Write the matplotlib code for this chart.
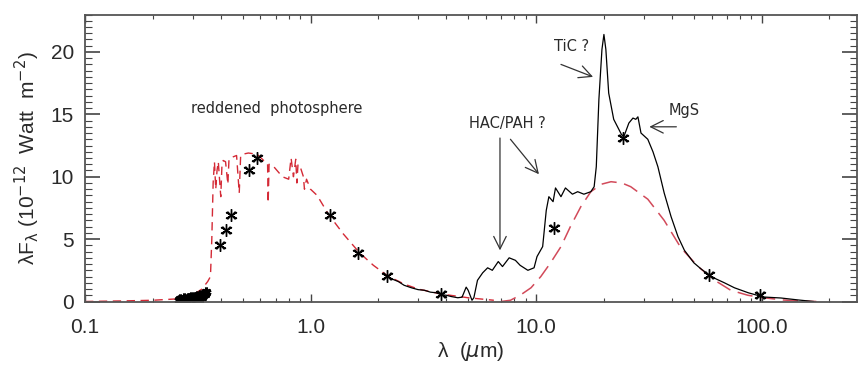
import numpy as np
import matplotlib.pyplot as plt
from matplotlib.ticker import FixedLocator, FixedFormatter, MultipleLocator

# reddened photosphere model (10^-12 W m^-2)
phot_wave = [0.10, 0.15, 0.20, 0.25, 0.30, 0.33, 0.35, 0.36, 0.365, 0.37, 0.375,
             0.38, 0.385, 0.39, 0.40, 0.405, 0.41, 0.42, 0.43, 0.435, 0.44, 0.47,
             0.483, 0.49, 0.50, 0.53, 0.58, 0.62, 0.645, 0.649, 0.655, 0.68, 0.75,
             0.80, 0.82, 0.84, 0.86, 0.87, 0.88, 0.90, 0.93, 0.94, 0.96, 1.00, 1.07,
             1.2, 1.4, 1.65, 1.9, 2.2, 2.6, 3.0, 3.8, 5.0, 6.5]
phot_flux = [0.0, 0.05, 0.1, 0.2, 0.5, 1.0, 1.6, 2.0, 5.0, 9.5, 11.2,
             9.0, 10.5, 11.2, 8.4, 11.0, 11.3, 11.2, 9.4, 11.4, 11.5, 11.7,
             8.7, 11.7, 11.8, 11.9, 11.8, 11.3, 11.1, 7.9, 11.0, 10.9, 10.0,
             9.8, 11.5, 10.0, 11.4, 9.5, 11.0, 10.8, 10.0, 9.0, 9.8, 9.0, 8.5,
             7.0, 5.4, 3.9, 2.9, 2.05, 1.4, 1.0, 0.6, 0.3, 0.1]

# dust shell model
dust_wave = [7.0, 7.7, 8.5, 9.5, 10.5, 11.6, 12.9, 14.2, 15.8, 17.5, 19.5, 21.5,
             24.0, 26.3, 31.3, 37.0, 43.9, 52.3, 62.0, 73.0, 87.0, 102.0, 125.0,
             146.0, 175.0]
dust_flux = [0.0, 0.1, 0.5, 1.1, 2.0, 3.1, 4.4, 6.0, 7.6, 8.8, 9.4, 9.6,
             9.5, 9.2, 8.2, 6.5, 4.3, 2.8, 1.7, 0.9, 0.5, 0.3, 0.12,
             0.05, 0.0]

# observed spectrum (SWS / LWS)
spec_wave = [2.1, 2.2, 2.3, 2.45, 2.6, 2.8, 3.0, 3.2, 3.4, 3.6, 3.8, 4.0, 4.2,
             4.5, 4.7, 4.9, 5.0, 5.1, 5.2, 5.3, 5.5, 5.8, 6.1, 6.4, 6.8, 7.1,
             7.6, 8.1, 8.5, 9.2, 9.8, 10.1, 10.7, 11.1, 11.4, 11.9, 12.2, 12.9,
             13.5, 14.5, 15.3, 16.3, 17.5, 18.1, 18.5, 19.0, 19.6, 20.0, 20.4,
             21.0, 22.1, 23.9, 24.5, 25.8, 26.9, 27.7, 28.3, 29.2, 31.3, 33.0,
             34.7, 37.0, 39.7, 42.6, 45.5, 50.1, 54.0, 58.7, 63.0, 68.4, 75.8,
             87.3, 102.0, 122.0, 146.0, 170.0]
spec_flux = [2.2, 2.0, 1.8, 1.6, 1.3, 1.1, 0.95, 0.9, 0.75, 0.7, 0.55, 0.5, 0.4,
             0.3, 0.35, 1.15, 0.9, 0.5, 0.1, 0.3, 1.7, 2.3, 2.7, 2.5, 3.2, 2.8,
             3.5, 3.3, 2.9, 2.5, 2.7, 3.6, 4.4, 7.3, 8.4, 8.0, 9.1, 8.4,
             9.1, 8.6, 8.8, 8.6, 8.8, 9.2, 10.8, 16.2, 20.2, 21.4, 20.2,
             16.7, 14.6, 13.4, 13.2, 14.3, 14.7, 14.6, 14.8, 13.5, 13.0, 12.0,
             10.8, 8.7, 6.8, 5.2, 4.1, 3.1, 2.6, 2.1, 1.8, 1.5, 1.1,
             0.7, 0.36, 0.28, 0.12, 0.0]

# photometry
phot_pts_wave = [0.398, 0.423, 0.445, 0.536, 0.58, 1.22, 1.63, 2.18, 3.78,
                 12.0, 24.4, 58.7, 98.0]
phot_pts_flux = [4.5, 5.7, 6.95, 10.5, 11.5, 6.95, 3.9, 2.05, 0.6,
                 5.9, 13.1, 2.1, 0.5]

# UV spectrum points
uv_wave = [0.260, 0.265, 0.270, 0.275, 0.280, 0.285, 0.290, 0.295, 0.300,
           0.305, 0.310, 0.315, 0.320, 0.325, 0.330, 0.335, 0.340, 0.345]
uv_flux = [0.10, 0.20, 0.15, 0.25, 0.20, 0.30, 0.25, 0.35, 0.30,
           0.40, 0.35, 0.45, 0.35, 0.50, 0.40, 0.55, 0.60, 0.75]

x_ticks = [0.1, 1.0, 10.0, 100.0]
x_labels = ['0.1', '1.0', '10.0', '100.0']

plt.rcParams['font.family'] = ['Liberation Sans', 'DejaVu Sans']
plt.rcParams['mathtext.fontset'] = 'dejavusans'

fig = plt.figure(figsize=(8.58, 3.65), dpi=100)
ax = fig.add_axes([85 / 858, 63.5 / 365, 772 / 858, 287 / 365])

red = '#d42a36'
ax.plot(phot_wave, phot_flux, color=red, lw=1.0, dashes=(6, 4))
ax.plot(dust_wave, dust_flux, color='#d24a5a', lw=1.1, dashes=(10, 5))
ax.plot(spec_wave, spec_flux, color='black', lw=0.9)
ax.plot(uv_wave, uv_flux, ls='none', marker=(6, 2, 0), ms=7, mew=2.2,
        color='black')
ax.plot(phot_pts_wave, phot_pts_flux, ls='none', marker=(6, 2, 0), ms=9,
        mew=1.0, color='black')
ax.plot(phot_pts_wave, phot_pts_flux, ls='none', marker='x', ms=6,
        mew=0.9, color='black')

ax.set_xscale('log')
ax.set_xlim(0.1, 265)
ax.set_ylim(0, 23)

ax.xaxis.set_major_locator(FixedLocator(x_ticks))
ax.xaxis.set_major_formatter(FixedFormatter(x_labels))
ax.yaxis.set_major_locator(MultipleLocator(5))
ax.yaxis.set_minor_locator(MultipleLocator(0.5))

txt = '#2a2a2a'
ax.tick_params(which='both', direction='in', top=True, right=True,
               color='#444444', labelcolor=txt, labelsize=15)
ax.tick_params(axis='y', which='major', length=11, width=1.2)
ax.tick_params(axis='y', which='minor', length=5, width=0.8)
ax.tick_params(axis='x', which='major', length=6, width=1.0, pad=12)
ax.tick_params(axis='x', which='minor', length=3, width=0.8)
ax.tick_params(axis='y', pad=8)
for s in ax.spines.values():
    s.set_color('#555555')
    s.set_linewidth(1.3)

ax.set_xlabel(r'λ  ($\mu$m)', fontsize=15, color=txt, labelpad=2)
ax.set_ylabel(r'λF$_{\mathrm{λ}}$ (10$^{-12}$  Watt  m$^{-2}$)',
              fontsize=15, color=txt, labelpad=6)

# feature labels
fs = 10.5
ax.text(0.706, 15.5, 'reddened  photosphere', fontsize=fs, color=txt,
        ha='center', va='center', family='DejaVu Sans')
ax.text(7.5, 14.3, 'HAC/PAH ?', fontsize=fs, color=txt, ha='center',
        va='center', family='DejaVu Sans')
ax.text(14.3, 20.4, 'TiC ?', fontsize=fs, color=txt, ha='center',
        va='center', family='DejaVu Sans')
ax.text(45.5, 15.3, 'MgS', fontsize=fs, color=txt, ha='center',
        va='center', family='DejaVu Sans')

arrow = dict(arrowstyle='->,head_length=0.9,head_width=0.45', color='#333333',
             lw=0.9, shrinkA=0, shrinkB=0)
ax.annotate('', xy=(6.92, 4.1), xytext=(6.92, 13.1), arrowprops=arrow)
ax.annotate('', xy=(10.3, 10.2), xytext=(7.7, 13.0), arrowprops=arrow)
ax.annotate('', xy=(17.9, 18.0), xytext=(12.9, 19.0), arrowprops=arrow)
ax.annotate('', xy=(31.8, 14.0), xytext=(41.9, 14.0), arrowprops=arrow)

fig.savefig('out.png', dpi=100)
